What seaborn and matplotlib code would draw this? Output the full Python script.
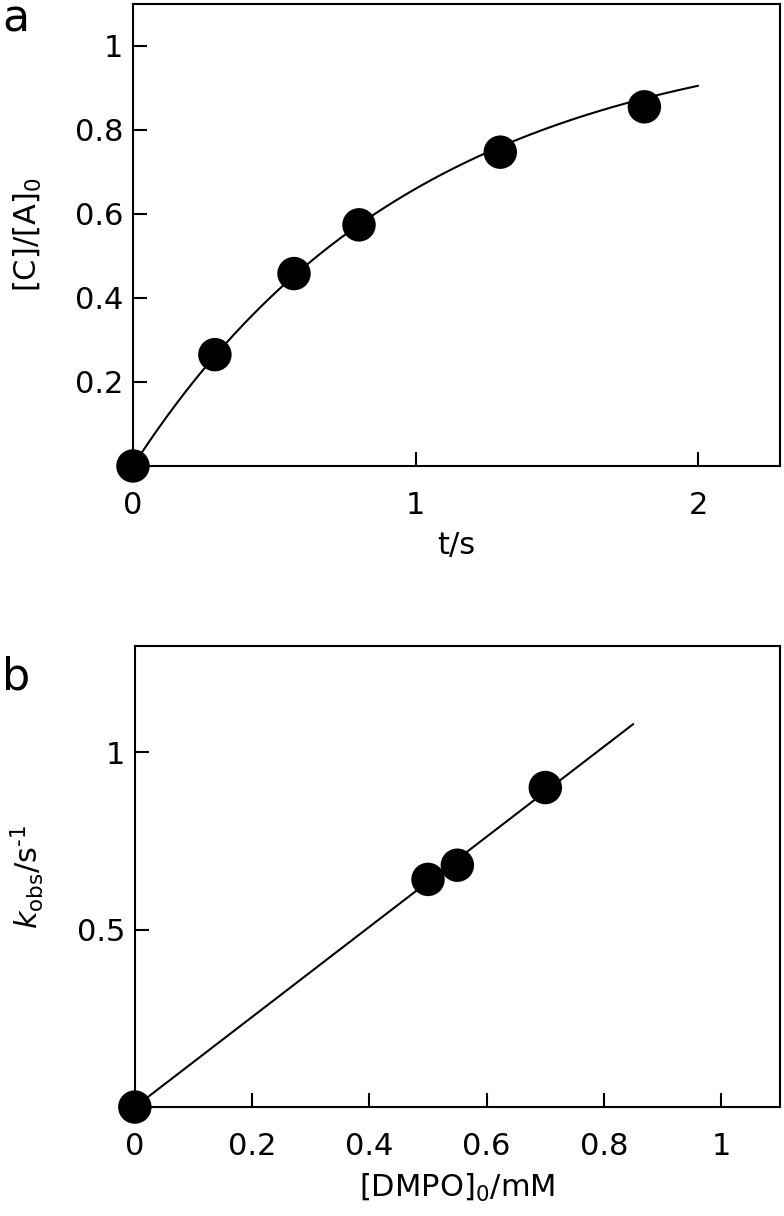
import numpy as np
import pandas as pd
import matplotlib
matplotlib.use("Agg")
import matplotlib.pyplot as plt
import seaborn as sns

# panel a: product fraction vs time
t_s = [0.0, 0.29, 0.57, 0.80, 1.30, 1.81]
c_frac = [0.0, 0.265, 0.458, 0.574, 0.747, 0.855]
# first-order fit y = A(1 - exp(-k t))
fit_A = 1.05
fit_k = 0.99
fit_t_end = 2.0

# panel b: k_obs vs [DMPO]0
dmpo_mM = [0.0, 0.50, 0.55, 0.70]
k_obs = [0.0, 0.642, 0.682, 0.901]
line_x = [0.0, 0.85]
line_y = [0.0, 1.08]

sns.set_style("ticks")
plt.rcParams["font.family"] = ["DejaVu Sans"]
plt.rcParams["mathtext.fontset"] = "dejavusans"
plt.rcParams["text.color"] = "black"
plt.rcParams["axes.labelcolor"] = "black"
plt.rcParams["axes.linewidth"] = 1.5

fig = plt.figure(figsize=(7.84, 12.16), dpi=100)
ax1 = fig.add_axes([0.1696, 0.6168, 0.8253, 0.380])
ax2 = fig.add_axes([0.172, 0.0896, 0.8227, 0.3791])

# --- panel a
tt = np.linspace(0, fit_t_end, 200)
fit_df = pd.DataFrame({"t": tt, "y": fit_A * (1 - np.exp(-fit_k * tt))})
sns.lineplot(data=fit_df, x="t", y="y", ax=ax1, color="black", lw=1.5)
sns.scatterplot(x=t_s, y=c_frac, ax=ax1, color="black", s=580,
                edgecolor="none", zorder=3)
for c in ax1.collections:
    c.set_clip_on(False)
ax1.set_xlim(0, 2.29)
ax1.set_ylim(0, 1.1)
ax1.set_xticks([0, 1, 2])
ax1.set_xticklabels(["0", "1", "2"])
ax1.set_yticks([0.2, 0.4, 0.6, 0.8, 1.0])
ax1.set_yticklabels(["0.2", "0.4", "0.6", "0.8", "1"])
ax1.set_xlabel("t/s", fontsize=22, labelpad=8)
ax1.set_ylabel("[C]/[A]$_0$", fontsize=22, labelpad=22)

# --- panel b
line_df = pd.DataFrame({"x": line_x, "y": line_y})
sns.lineplot(data=line_df, x="x", y="y", ax=ax2, color="black", lw=1.5)
sns.scatterplot(x=dmpo_mM, y=k_obs, ax=ax2, color="black", s=580,
                edgecolor="none", zorder=3)
for c in ax2.collections:
    c.set_clip_on(False)
ax2.set_xlim(0, 1.1)
ax2.set_ylim(0, 1.3)
ax2.set_xticks([0, 0.2, 0.4, 0.6, 0.8, 1.0])
ax2.set_xticklabels(["0", "0.2", "0.4", "0.6", "0.8", "1"])
ax2.set_yticks([0.5, 1.0])
ax2.set_yticklabels(["0.5", "1"])
ax2.set_xlabel("[DMPO]$_0$/mM", fontsize=22, labelpad=8)
ax2.set_ylabel("$k_{\\mathrm{obs}}$/s$^{\u2010\\mathrm{1}}$", fontsize=22, labelpad=22)

for ax in (ax1, ax2):
    for sp in ax.spines.values():
        sp.set_visible(True)
        sp.set_linewidth(1.5)
        sp.set_color("black")
    ax.tick_params(direction="in", length=10, width=1.5, labelsize=22,
                   top=False, right=False, colors="black")
    ax.tick_params(axis="x", pad=18)
    ax.tick_params(axis="y", pad=7)

fig.text(0.003, 1 - 32 / 1216, "a", fontsize=32, va="baseline", color="black")
fig.text(0.003, 1 - 690 / 1216, "b", fontsize=32, va="baseline", color="black")

fig.savefig("out.png", dpi=100)
